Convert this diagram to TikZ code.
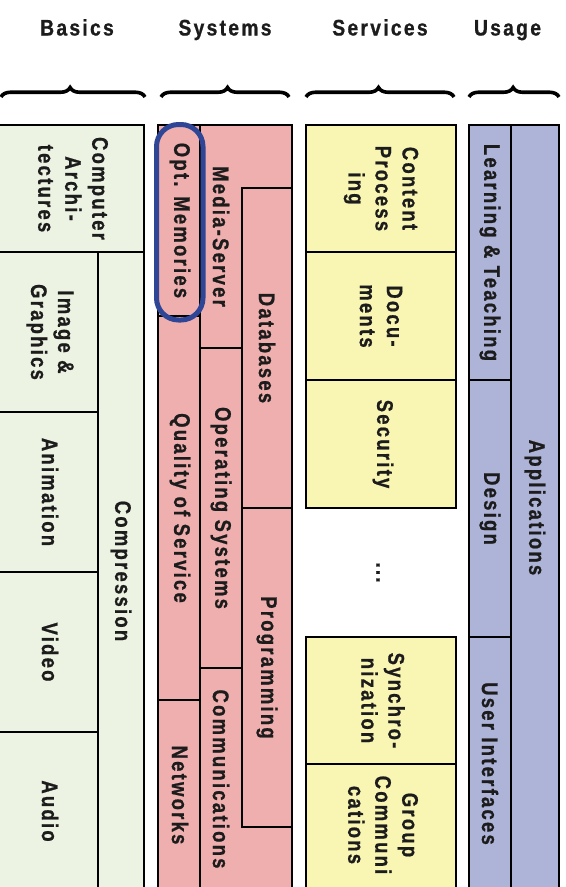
\documentclass[tikz,border=0pt]{standalone}
\usepackage{fontspec}
\newfontfamily\lblfont[LetterSpace=10,FakeStretch=0.82,FakeBold=0.8]{Liberation Sans}
\newfontfamily\headfont[LetterSpace=10,FakeStretch=0.86,FakeBold=0.8]{Liberation Sans}
\usetikzlibrary{decorations.pathreplacing}
\definecolor{basicsfill}{RGB}{237,243,227}
\definecolor{sysfill}{RGB}{240,175,175}
\definecolor{servfill}{RGB}{249,246,180}
\definecolor{usefill}{RGB}{174,179,216}
\definecolor{ringblue}{RGB}{47,70,150}
\definecolor{txtcol}{RGB}{28,28,28}
\tikzset{
  cellline/.style={draw=black, line width=1.2bp},
  lbl/.style={rotate=-90, font={\lblfont\bfseries\fontsize{22.5bp}{27bp}\selectfont}, align=center, text=txtcol, inner sep=0pt},
  head/.style={font={\headfont\bfseries\fontsize{22.5bp}{26bp}\selectfont}, anchor=base, text=txtcol, inner sep=0pt},
  bracestyle/.style={decorate, decoration={brace, amplitude=9.5bp, aspect=#1}, line width=3.6bp, draw=black},
  bracestyle/.default=0.5,
  ring/.style={draw=ringblue, line width=5bp, rounded corners=22bp}
}
\begin{document}
\begin{tikzpicture}[x=1bp,y=-1bp]
\useasboundingbox (0,0) rectangle (566,887);
% headers
\node[head] (hbasics) at (77,35.5) {Basics};
\node[head] (hsystems) at (225,35.5) {Systems};
\node[head] (hservices) at (380,35.5) {Services};
\node[head] (husage) at (507.5,35.5) {Usage};
% braces
\draw[bracestyle=0.48] (1,97) -- (145,97);
\draw[bracestyle=0.52] (161,97) -- (289,97);
\draw[bracestyle=0.49] (306,97) -- (454,97);
\draw[bracestyle=0.49] (469,97) -- (559,97);
% Basics column
\fill[basicsfill] (-2,125) rectangle (144,892);
\draw[cellline] (-2,125) -- (144,125) -- (144,892);
\draw[cellline] (-2,252) -- (144,252);
\draw[cellline] (98,252) -- (98,892);
\draw[cellline] (-2,412) -- (98,412);
\draw[cellline] (-2,572) -- (98,572);
\draw[cellline] (-2,732) -- (98,732);
% Systems column
\fill[sysfill] (158,125) rectangle (292,892);
\draw[cellline] (158,892) -- (158,125) -- (292,125) -- (292,892);
\draw[cellline] (200,125) -- (200,892);
\draw[cellline] (158,316) -- (200,316);
\draw[cellline] (158,700) -- (200,700);
\draw[cellline] (200,348) -- (243,348);
\draw[cellline] (200,668) -- (243,668);
\draw[cellline] (292,188) -- (242,188) -- (242,827) -- (292,827);
\draw[cellline] (242,508) -- (292,508);
% Services column
\fill[servfill] (306,125) rectangle (456,508);
\fill[servfill] (306,637) rectangle (456,892);
\draw[cellline] (306,508) -- (306,125) -- (456,125) -- (456,508) -- cycle;
\draw[cellline] (306,892) -- (306,637) -- (456,637) -- (456,892);
\draw[cellline] (305,252) -- (456,252);
\draw[cellline] (305,380) -- (456,380);
\draw[cellline] (305,764) -- (456,764);
% Usage column
\fill[usefill] (469,125) rectangle (559,892);
\draw[cellline] (469,892) -- (469,125) -- (559,125) -- (559,892);
\draw[cellline] (511,125) -- (511,892);
\draw[cellline] (469,380) -- (512,380);
\draw[cellline] (469,637) -- (512,637);
% ring
\draw[ring] (156.5,124.5) rectangle (203,320);
% labels Basics
\node[lbl] (comparch) at (73,188.5) {Computer\\Archi-\\tectures};
\node[lbl] (image) at (50,332) {Image \&\\Graphics};
\node[lbl] (anim) at (50,492) {Animation};
\node[lbl] (video) at (50,652) {Video};
\node[lbl] (audio) at (50,811) {Audio};
\node[lbl] (compr) at (121,571) {Compression};
% labels Systems
\node[lbl] (optmem) at (180,220.5) {Opt. Memories};
\node[lbl] (qos) at (180,508) {Quality of Service};
\node[lbl] (netw) at (180,795) {Networks};
\node[lbl] (media) at (221,236.5) {Media-Server};
\node[lbl] (opsys) at (221,508) {Operating Systems};
\node[lbl] (comm) at (221,779) {Communications};
\node[lbl] (db) at (267,348) {Databases};
\node[lbl] (prog) at (267,667.5) {Programming};
% labels Services
\node[lbl] (content) at (381,188.5) {Content\\Process\\ing};
\node[lbl] (docs) at (381,316) {Docu-\\ments};
\node[lbl] (security) at (383,444) {Security};
\node[lbl] (dots) at (378,572.5) {...};
\node[lbl] (sync) at (383,700.5) {Synchro-\\nization};
\node[lbl] (group) at (383,825) {Group\\Communi\\cations};
% labels Usage
\node[lbl] (learn) at (490,252.5) {Learning \& Teaching};
\node[lbl] (design) at (490,508.5) {Design};
\node[lbl] (ui) at (490,763.5) {User Interfaces};
\node[lbl] (apps) at (535,507.5) {Applications};
\end{tikzpicture}
\end{document}
